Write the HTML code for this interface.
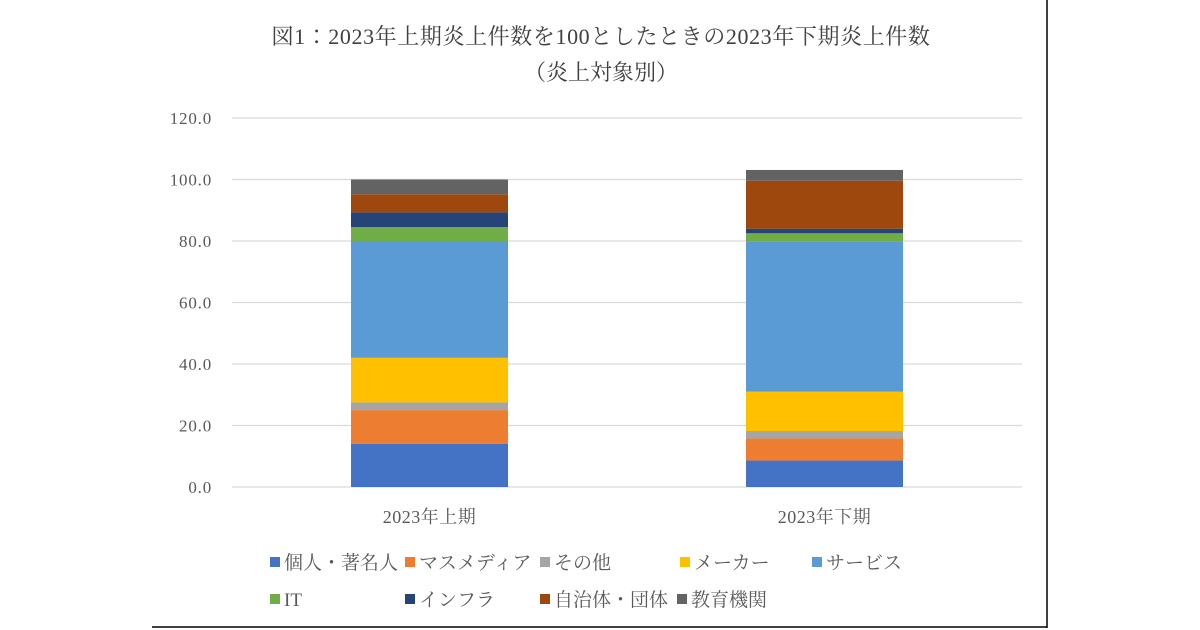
<!DOCTYPE html>
<html><head><meta charset="utf-8"><style>
html,body{margin:0;padding:0;background:#fff;width:1200px;height:630px;overflow:hidden}
svg{display:block;font-family:"Liberation Serif","Noto Serif CJK JP","Noto Serif CJK SC",serif}
</style></head><body>
<svg id="chart" width="1200" height="630">
<line x1="1047" y1="0" x2="1047" y2="628" stroke="#000" stroke-width="1.5"/>
<line x1="152" y1="627" x2="1047" y2="627" stroke="#000" stroke-width="1.5"/>
<text x="601" y="44" text-anchor="middle" font-size="22" letter-spacing="0.6" fill="#404040">図1：2023年上期炎上件数を100としたときの2023年下期炎上件数</text>
<text x="601" y="80" text-anchor="middle" font-size="22" fill="#404040">（炎上対象別）</text>
<g id="grid"></g><g id="bars"></g><g id="legend"></g>
</svg>
<script>
const categories=["2023年上期","2023年下期"];
const seriesNames=["個人・著名人","マスメディア","その他","メーカー","サービス","IT","インフラ","自治体・団体","教育機関"];
const seriesColors=["#4472c4","#ed7d31","#a5a5a5","#ffc000","#5b9bd5","#70ad47","#264478","#9e480e","#636363"];
const s0=[14.0,8.6];
const s1=[11.0,7.2];
const s2=[2.5,2.4];
const s3=[14.5,12.8];
const s4=[38.0,48.8];
const s5=[4.5,2.7];
const s6=[4.8,1.5];
const s7=[5.9,15.6];
const s8=[4.8,3.5];
const series=[s0,s1,s2,s3,s4,s5,s6,s7,s8];
const yTicks=[0,20,40,60,80,100,120];
const NS="http://www.w3.org/2000/svg";
const y0=487,y1=118,yMax=120,xL=232,xR=1022;
function y(v){return y0-(v/yMax)*(y0-y1);}
function xc(i){const w=(xR-xL)/categories.length;return xL+w*(i+0.5);}
const barW=157;
function mk(t,a,p){const e=document.createElementNS(NS,t);for(const k in a)e.setAttribute(k,a[k]);p.appendChild(e);return e;}
const g=document.getElementById('grid');
yTicks.forEach(t=>{
 const l=mk('line',{x1:xL,x2:xR,y1:y(t),y2:y(t),stroke:'#d9d9d9','stroke-width':1.2},g);
 
 
 const tx=mk('text',{x:212,y:y(t)+6,'text-anchor':'end','font-size':17,'letter-spacing':0.8,fill:'#595959'},g);
 tx.textContent=t.toFixed(1);
 
 
});
const b=document.getElementById('bars');
categories.forEach((c,i)=>{
 let acc=0;
 series.forEach((s,k)=>{
  const v=s[i];
  const r=mk('rect',{x:xc(i)-barW/2,y:y(acc+v),width:barW,height:y(acc)-y(acc+v),fill:seriesColors[k]},b);
  
  
  acc+=v;
 });
 const t=mk('text',{x:xc(i),y:523,'text-anchor':'middle','font-size':18,'letter-spacing':0.5,fill:'#595959'},b);
 t.textContent=c;
 
 
});
const lg=document.getElementById('legend');
const lx=[270,405,540,680,812,270,405,540,677];
const ly=[563,563,563,563,563,600,600,600,600];
seriesNames.forEach((n,k)=>{
 const r=mk('rect',{x:lx[k],y:ly[k]-6,width:10,height:10,fill:seriesColors[k]},lg);
 
 
 const t=mk('text',{x:lx[k]+14,y:ly[k]+6,'font-size':19,fill:'#595959'},lg);
 t.textContent=n;
 
 
});
</script>
</body></html>
